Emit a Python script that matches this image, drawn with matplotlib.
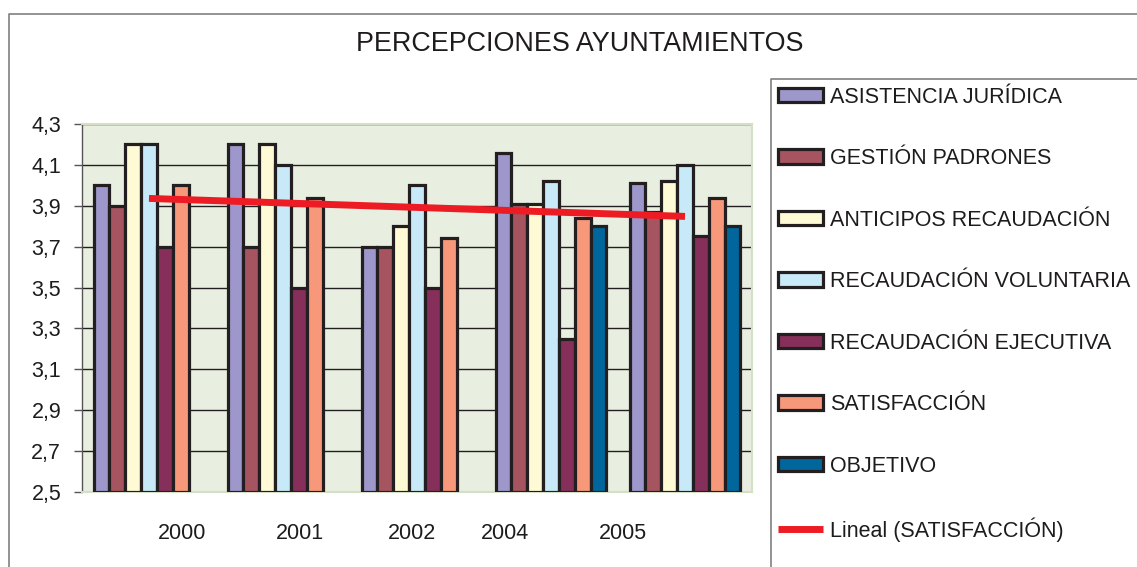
import numpy as np
import matplotlib
matplotlib.use("Agg")
import matplotlib.pyplot as plt
from matplotlib.lines import Line2D

plt.rcParams['font.family'] = ['Liberation Sans', 'DejaVu Sans']

years = ['2000', '2001', '2002', '2004', '2005']
# where each year label sits, relative to its group centre (as in the original)
label_shift = [0.25, 0.13, -0.04, -0.34, -0.46]

series = ['ASISTENCIA JURÍDICA', 'GESTIÓN PADRONES', 'ANTICIPOS RECAUDACIÓN',
          'RECAUDACIÓN VOLUNTARIA', 'RECAUDACIÓN EJECUTIVA', 'SATISFACCIÓN', 'OBJETIVO']
asistencia = [4.0, 4.2, 3.7, 4.16, 4.01]
gestion = [3.9, 3.7, 3.7, 3.91, 3.87]
anticipos = [4.2, 4.2, 3.8, 3.91, 4.02]
voluntaria = [4.2, 4.1, 4.0, 4.02, 4.1]
ejecutiva = [3.7, 3.5, 3.5, 3.25, 3.75]
satisfaccion = [4.0, 3.94, 3.74, 3.84, 3.94]
objetivo = [np.nan, np.nan, np.nan, 3.8, 3.8]
colors = ['#9E97CB', '#A65560', '#FFFAD6', '#C8EAF8', '#862F5A', '#F7987A', '#00669C']

values = [asistencia, gestion, anticipos, voluntaria, ejecutiva, satisfaccion, objetivo]
txt = '#1E1B1C'

fig = plt.figure(figsize=(11.37, 5.67), dpi=100)
ax = fig.add_axes([0.0721, 0.1323, 0.5893, 0.649])
ax.set_facecolor('#E8EEE0')

x = np.arange(len(years))
w = 0.118
n = len(series)
for i, (name, vals, c) in enumerate(zip(series, values, colors)):
    ax.bar(x + (i - (n - 1) / 2) * w, np.array(vals) - 2.5, w, bottom=2.5,
           color=c, edgecolor='#231F20', linewidth=2.3, label=name, zorder=3)

# linear trend of SATISFACCIÓN
k, b = np.polyfit(x, satisfaccion, 1)
ax.plot([x[0], x[-1]], [k * x[0] + b, k * x[-1] + b], color='#ED1C24', lw=5,
        solid_capstyle='butt', zorder=4, label='Lineal (SATISFACCIÓN)')

ax.set_xlim(-0.5, 4.5)
ax.set_ylim(2.5, 4.3)
yt = np.arange(2.5, 4.31, 0.2)
ax.set_yticks(yt)
ax.set_yticklabels([f'{v:.1f}'.replace('.', ',') for v in yt], fontsize=15.5, color=txt)
ax.set_xticks(x + np.array(label_shift))
ax.set_xticklabels(years, fontsize=15.5, color=txt)
ax.tick_params(axis='x', length=0, pad=22)
ax.tick_params(axis='y', length=6, width=1, color='#555555', pad=9)
ax.yaxis.grid(True, color='#231F20', lw=1.0, zorder=1)
ax.set_axisbelow(True)
for s in ['top', 'right', 'bottom']:
    ax.spines[s].set_color('#D5DFC5')
    ax.spines[s].set_linewidth(1.5)
ax.spines['left'].set_color('#555555')
ax.spines['left'].set_linewidth(1.0)

fig.text(0.51, 0.922, 'PERCEPCIONES AYUNTAMIENTOS', fontsize=19.4,
         ha='center', va='center', color=txt)

h, l = ax.get_legend_handles_labels()
h = h[1:] + h[:1]
l = l[1:] + l[:1]
fig.legend(h, l, loc='upper left', bbox_to_anchor=(0.684, 0.847), frameon=False,
           fontsize=15.5, borderpad=0, borderaxespad=0, labelspacing=1.88,
           handlelength=2.1, handleheight=0.65, handletextpad=0.33, labelcolor=txt)

# outer chart frame and legend box edges
fig.add_artist(Line2D([9 / 1137, 9 / 1137, 1], [0, 1 - 14 / 567, 1 - 14 / 567],
                      transform=fig.transFigure, color='#808080', lw=1.2))
fig.add_artist(Line2D([771 / 1137, 771 / 1137, 1], [0, 1 - 79 / 567, 1 - 79 / 567],
                      transform=fig.transFigure, color='#808080', lw=1.2))

fig.savefig('out.png', dpi=100)
